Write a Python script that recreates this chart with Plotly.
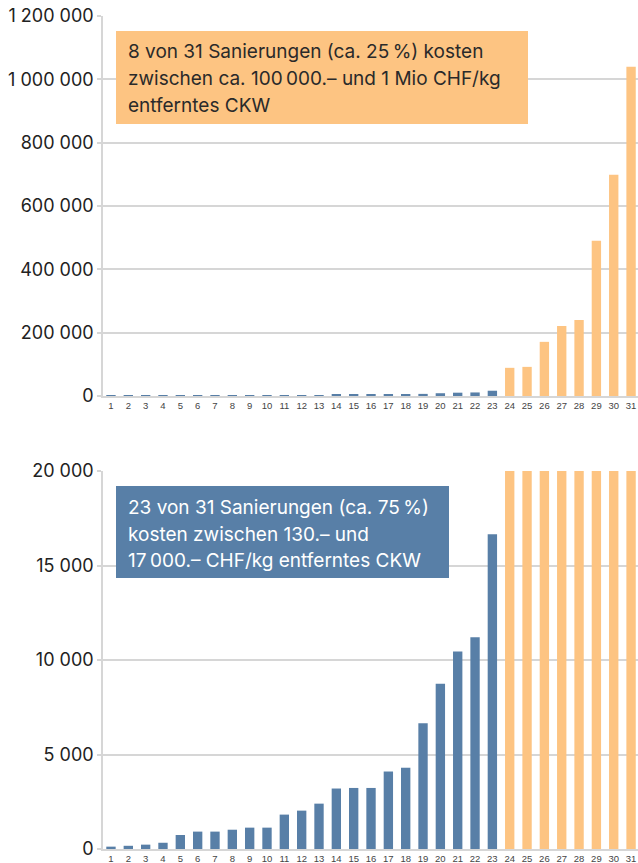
import plotly.graph_objects as go
from plotly.subplots import make_subplots

# ---- data ----
projects = list(range(1, 32))
costs = [125, 170, 230, 330, 740, 920, 920, 1020, 1130, 1130,
         1820, 2030, 2400, 3200, 3230, 3230, 4100, 4300, 6650, 8750,
         10450, 11200, 16650,
         89000, 92000, 171000, 221000, 240000, 490000, 699000, 1040000]
group = ["low"] * 23 + ["high"] * 8

top_tickvals = [0, 200000, 400000, 600000, 800000, 1000000, 1200000]
top_ticktext = ["0", "200 000", "400 000", "600 000", "800 000",
                "1 000 000", "1 200 000"]
bot_tickvals = [0, 5000, 10000, 15000, 20000]
bot_ticktext = ["0", "5 000", "10 000", "15 000", "20 000"]

note_top = ["8 von 31 Sanierungen (ca. 25\u2009%) kosten",
            "zwischen ca. 100\u2009000.\u2013 und 1 Mio CHF/kg",
            "entferntes CKW"]
note_bot = ["23 von 31 Sanierungen (ca. 75\u2009%)",
            "kosten zwischen 130.\u2013 und",
            "17\u2009000.\u2013 CHF/kg entferntes CKW"]

BLUE = "#587fa7"
ORANGE = "#fdc482"
GRID = "#d6d6d6"

W, H = 638, 863
ML, MR, MT, MB = 103, 0, 16, 14
PH = H - MT - MB
PW = W - ML - MR


def py(pix):
    return (H - MB - pix) / PH


def px(pix):
    return (pix - ML) / PW


fig = make_subplots(rows=2, cols=1)

colors = [BLUE if g == "low" else ORANGE for g in group]
for r in (1, 2):
    fig.add_trace(go.Bar(x=projects, y=costs, marker=dict(color=colors, line=dict(width=0)),
                         showlegend=False, hoverinfo="x+y"), row=r, col=1)

fig.update_layout(
    width=W, height=H, margin=dict(l=ML, r=MR, t=MT, b=MB),
    plot_bgcolor="white", paper_bgcolor="white",
    bargap=0.46,
    font=dict(family="Inter, Roboto, sans-serif", color="#222"),
)

xcommon = dict(range=[0.54, 31.4], tickmode="array", tickvals=projects,
               ticktext=[str(p) for p in projects], showgrid=False,
               showline=True, linecolor=GRID, linewidth=1.5, ticks="",
               tickfont=dict(family="Liberation Sans, Arial, sans-serif", size=9.5, color="#444"),
               zeroline=False, automargin=False)
ycommon = dict(tickmode="array", showgrid=True, gridcolor=GRID, gridwidth=1.5,
               showline=True, linecolor=GRID, linewidth=1.5,
               ticks="outside", ticklen=4, tickcolor=GRID, tickwidth=1.5,
               tickfont=dict(size=18, color="#222"), zeroline=False, automargin=False)
fig.update_layout(
    xaxis=dict(domain=[0, 1], anchor="y", **xcommon),
    xaxis2=dict(domain=[0, 1], anchor="y2", **xcommon),
    yaxis=dict(domain=[py(396), 1.0], range=[0, 1200000],
               tickvals=top_tickvals, ticktext=top_ticktext, **ycommon),
    yaxis2=dict(domain=[0, py(471)], range=[0, 20000],
                tickvals=bot_tickvals, ticktext=bot_ticktext, **ycommon),
)

# annotation boxes
fig.add_shape(type="rect", xref="paper", yref="paper",
              x0=px(116), x1=px(528), y0=py(124), y1=py(31),
              fillcolor=ORANGE, line=dict(width=0), layer="above")
fig.add_shape(type="rect", xref="paper", yref="paper",
              x0=px(116), x1=px(449), y0=py(578), y1=py(486),
              fillcolor=BLUE, line=dict(width=0), layer="above")

for i, line in enumerate(note_top):
    fig.add_annotation(xref="paper", yref="paper", x=px(126), y=py(52 + i * 26.7),
                       xanchor="left", yanchor="middle", showarrow=False, text=line,
                       font=dict(size=19, color="#2a2a2a"))
for i, line in enumerate(note_bot):
    fig.add_annotation(xref="paper", yref="paper", x=px(126), y=py(508 + i * 26.3),
                       xanchor="left", yanchor="middle", showarrow=False, text=line,
                       font=dict(size=19, color="white"))

fig.write_html("out.html", config={"displayModeBar": False},
               post_script="document.body.style.margin='0';"
                           "document.body.style.overflow='hidden';")
